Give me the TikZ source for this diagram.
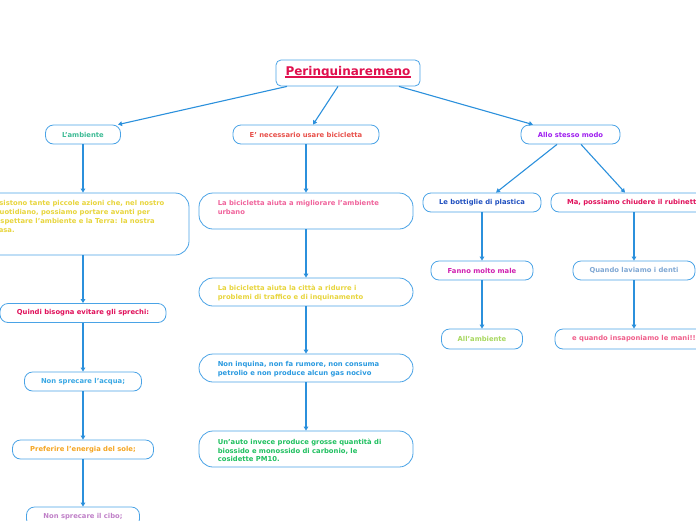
\documentclass[tikz,border=0pt]{standalone}
\usepackage{fontspec}
\setmainfont{DejaVu Sans}
\usetikzlibrary{arrows.meta}
\definecolor{bord}{HTML}{4AA3E6}
\definecolor{arrc}{HTML}{2B90DC}
\definecolor{ctitle}{HTML}{E0104E}
\definecolor{cteal}{HTML}{3DBB95}
\definecolor{cyel}{HTML}{E8D53C}
\definecolor{ccrim}{HTML}{E0105A}
\definecolor{clblue}{HTML}{3AA8E4}
\definecolor{corange}{HTML}{F5A623}
\definecolor{cplum}{HTML}{C080C8}
\definecolor{cred}{HTML}{E8504A}
\definecolor{cpink}{HTML}{F0649C}
\definecolor{cblue}{HTML}{2A9AE0}
\definecolor{cgreen}{HTML}{20C060}
\definecolor{cpurple}{HTML}{A020F0}
\definecolor{cdblue}{HTML}{2050C0}
\definecolor{cmag}{HTML}{D020B0}
\definecolor{csteel}{HTML}{80A8D4}
\definecolor{clgreen}{HTML}{A8D860}
\definecolor{cpink2}{HTML}{F0608C}
\begin{document}
\begin{tikzpicture}[x=1pt,y=-1pt,
  every node/.style={font=\fontsize{6.8}{8.8}\selectfont\bfseries},
  pill/.style={draw=bord, line width=0.8pt, rounded corners=8pt, minimum height=19pt, inner sep=0pt, fill=white},
  bigbox/.style={draw=bord, line width=0.8pt, rounded corners=14pt, inner sep=0pt, fill=white},
  txt/.style={anchor=north west, inner sep=0pt, align=left},
  arr/.style={draw=arrc, line width=1.1pt, -{Triangle[length=4pt,width=4.5pt]}}]
\useasboundingbox (0,0) rectangle (696,520);

% title
\node[draw=bord, line width=0.8pt, rounded corners=5pt, minimum width=144pt, minimum height=26pt, fill=white] (title) at (348,73) {};
\node[inner sep=0pt, text=ctitle, font=\fontsize{12}{14}\selectfont\bfseries] (ttl) at (348,72.5) {Perinquinaremeno};
\draw[ctitle, line width=1.4pt] ([yshift=-1.2pt]ttl.base west) -- ([yshift=-1.2pt]ttl.base east);

% left column
\node[pill, minimum width=75pt, text=cteal] (lamb) at (83,134.5) {L'ambiente};
\node[bigbox, minimum width=212pt, minimum height=62pt] (esist) at (83,224) {};
\node[txt, text=cyel] (esistt) at ([xshift=18pt,yshift=-8pt]esist.north west) {Esistono tante piccole azioni che, nel nostro\\quotidiano, possiamo portare avanti per\\rispettare l'ambiente e la Terra: la nostra\\casa.};
\node[pill, minimum width=166pt, text=ccrim] (quindi) at (83,313) {Quindi bisogna evitare gli sprechi:};
\node[pill, minimum width=117pt, text=clblue] (acqua) at (83,381.5) {Non sprecare l'acqua;};
\node[pill, minimum width=141pt, text=corange] (sole) at (83,449.5) {Preferire l'energia del sole;};
\node[pill, minimum width=113pt, minimum height=20pt, text=cplum] (cibo) at (83,517) {Non sprecare il cibo;};

% middle column
\node[pill, minimum width=146pt, text=cred] (bici) at (306,134.5) {E' necessario usare bicicletta};
\node[bigbox, minimum width=214pt, minimum height=36pt] (b1) at (306,211) {};
\node[txt, text=cpink] (b1t) at ([xshift=19pt,yshift=-8pt]b1.north west) {La bicicletta aiuta a migliorare l'ambiente\\urbano};
\node[bigbox, minimum width=214pt, minimum height=28pt] (b2) at (306,292) {};
\node[txt, text=cyel] (b2t) at ([xshift=19pt,yshift=-7pt]b2.north west) {La bicicletta aiuta la città a ridurre i\\problemi di traffico e di inquinamento};
\node[bigbox, minimum width=214pt, minimum height=28pt] (b3) at (306,368) {};
\node[txt, text=cblue] (b3t) at ([xshift=19pt,yshift=-8pt]b3.north west) {Non inquina, non fa rumore, non consuma\\petrolio e non produce alcun gas nocivo};
\node[bigbox, minimum width=214pt, minimum height=36pt] (b4) at (306,449) {};
\node[txt, text=cgreen] (b4t) at ([xshift=19pt,yshift=-8pt]b4.north west) {Un'auto invece produce grosse quantità di\\biossido e monossido di carbonio, le\\cosidette PM10.};

% right columns
\node[pill, minimum width=99pt, text=cpurple] (allo) at (570.5,134.5) {Allo stesso modo};
\node[pill, minimum width=118pt, text=cdblue] (bott) at (482,202.5) {Le bottiglie di plastica};
\node[pill, minimum width=166pt, text=ccrim] (rub) at (634,202.5) {Ma, possiamo chiudere il rubinetto};
\node[pill, minimum width=102pt, text=cmag] (male) at (482,270.5) {Fanno molto male};
\node[pill, minimum width=122pt, text=csteel] (denti) at (634,270.5) {Quando laviamo i denti};
\node[pill, minimum width=81pt, minimum height=20pt, text=clgreen] (allamb) at (482,339) {All'ambiente};
\node[pill, minimum width=158pt, minimum height=20pt, text=cpink2] (mani) at (634,339) {e quando insaponiamo le mani!!};

% connectors
\draw[arr] ([xshift=-61pt]title.south) -- ([xshift=35pt]lamb.north);
\draw[arr] ([xshift=-10pt]title.south) -- ([xshift=7pt]bici.north);
\draw[arr] ([xshift=51pt]title.south) -- ([xshift=-37.5pt]allo.north);
\draw[arr] (lamb.south) -- (esist.north);
\draw[arr] (esist.south) -- (quindi.north);
\draw[arr] (quindi.south) -- (acqua.north);
\draw[arr] (acqua.south) -- (sole.north);
\draw[arr] (sole.south) -- (cibo.north);
\draw[arr] (bici.south) -- (b1.north);
\draw[arr] (b1.south) -- (b2.north);
\draw[arr] (b2.south) -- (b3.north);
\draw[arr] (b3.south) -- (b4.north);
\draw[arr] ([xshift=-13.5pt]allo.south) -- ([xshift=14pt]bott.north);
\draw[arr] ([xshift=10.5pt]allo.south) -- ([xshift=-9pt]rub.north);
\draw[arr] (bott.south) -- (male.north);
\draw[arr] (male.south) -- (allamb.north);
\draw[arr] (rub.south) -- (denti.north);
\draw[arr] (denti.south) -- (mani.north);
\end{tikzpicture}
\end{document}
